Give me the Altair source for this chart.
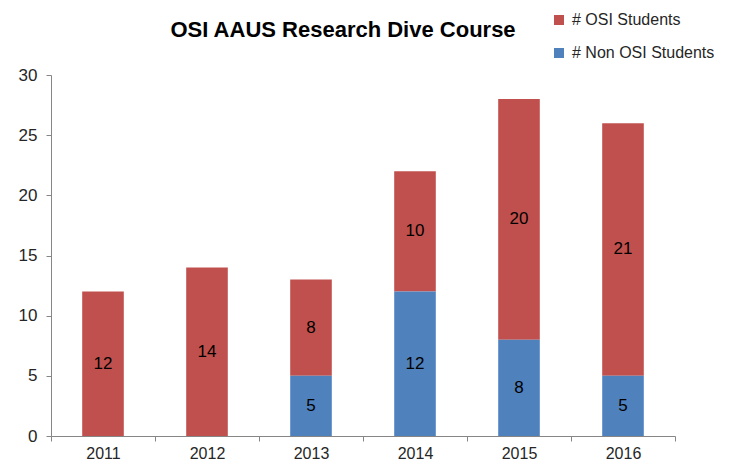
import altair as alt
import pandas as pd

title_text = ["OSI AAUS Research Dive Course"]
years = ["2011", "2012", "2013", "2014", "2015", "2016"]
osi_students = [12, 14, 8, 10, 20, 21]
non_osi_students = [0, 0, 5, 12, 8, 5]
series_names = ["# OSI Students", "# Non OSI Students"]
series_colors = ["#C0504D", "#4F81BD"]
y_ticks = [0, 5, 10, 15, 20, 25, 30]

rows = []
for i, yr in enumerate(years):
    rows.append({"year": yr, "series": series_names[0], "value": osi_students[i], "ord": 1})
    rows.append({"year": yr, "series": series_names[1], "value": non_osi_students[i], "ord": 0})
df = pd.DataFrame(rows)

FONT = "Liberation Sans"
TXT = "#262626"

base = alt.Chart(df).transform_filter(
    alt.datum.value > 0
).transform_stack(
    stack="value", groupby=["year"], as_=["y0", "y1"],
    sort=[alt.SortField("ord", order="ascending")]
).transform_calculate(
    mid="(datum.y0 + datum.y1) / 2"
)

x_enc = alt.X("year:N", title=None, sort=years,
              scale=alt.Scale(paddingInner=0, paddingOuter=0),
              axis=alt.Axis(labelAngle=0, tickBand="extent", tickSize=5,
                            labelPadding=4, labelFontSize=16, labelFont=FONT,
                            labelColor=TXT, domainColor="#868686",
                            tickColor="#868686"))

bars = base.mark_bar(width=alt.RelativeBandSize(0.4)).encode(
    x=x_enc,
    y=alt.Y("y0:Q", title=None,
            scale=alt.Scale(domain=[0, 30], nice=False),
            axis=alt.Axis(values=y_ticks, grid=False, tickSize=5, labelPadding=9,
                          labelFontSize=17, labelFont=FONT, labelColor=TXT,
                          domainColor="#868686", tickColor="#868686")),
    y2="y1:Q",
    color=alt.Color("series:N",
                    scale=alt.Scale(domain=series_names, range=series_colors),
                    legend=alt.Legend(title=None, orient="none", legendX=500, legendY=-63,
                                      symbolType="square", symbolSize=100,
                                      symbolStrokeWidth=0, labelFontSize=16,
                                      labelFont=FONT, labelColor=TXT, labelOffset=5,
                                      rowPadding=17)),
)

labels = base.mark_text(fontSize=17, font=FONT, color="#000000").encode(
    x=x_enc,
    y=alt.Y("mid:Q"),
    text=alt.Text("value:Q"),
)

title = alt.Chart(pd.DataFrame({"t": title_text})).mark_text(
    fontSize=22, font=FONT, fontWeight="bold", color="#000000",
    align="center", baseline="alphabetic"
).encode(
    text="t:N", x=alt.value(292), y=alt.value(-38)
)

chart = alt.layer(bars, labels, title).properties(
    width=624, height=361,
    autosize=alt.AutoSizeParams(type="none"),
    padding={"left": 43, "top": 67, "right": 50, "bottom": 26},
).configure_view(stroke=None)

chart.save("out.html", embed_options={"renderer": "svg", "actions": False})
